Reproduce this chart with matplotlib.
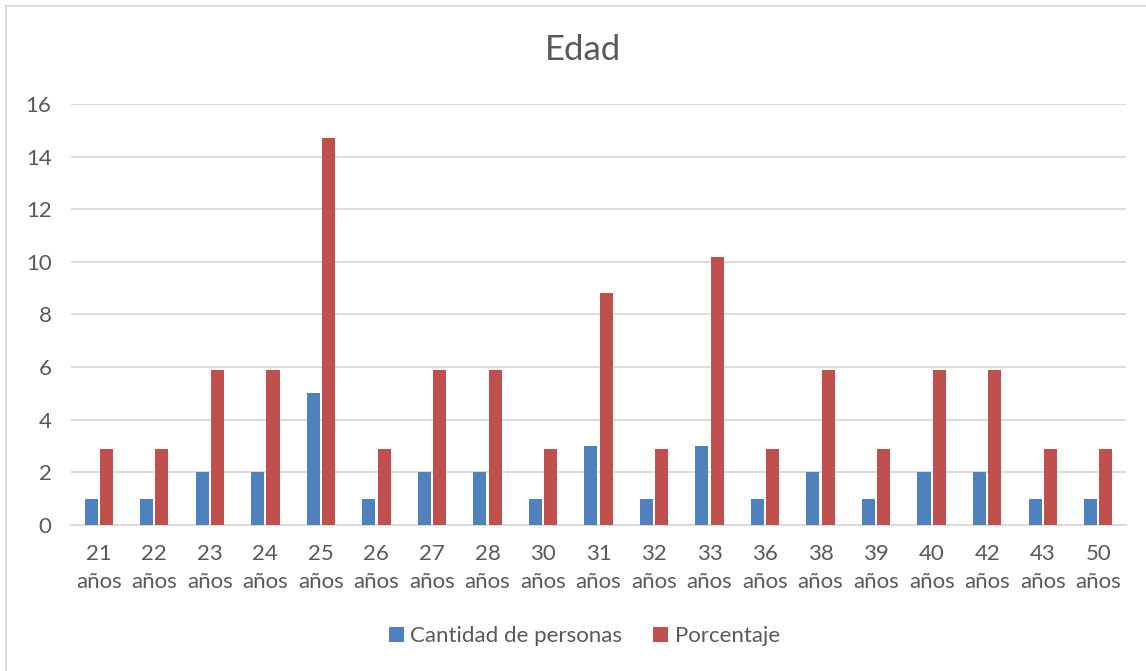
import numpy as np
import matplotlib.pyplot as plt
from matplotlib.patches import Rectangle

plt.rcParams["font.family"] = ["Lato", "DejaVu Sans"]

edades = ["21\naños", "22\naños", "23\naños", "24\naños", "25\naños", "26\naños",
          "27\naños", "28\naños", "30\naños", "31\naños", "32\naños", "33\naños",
          "36\naños", "38\naños", "39\naños", "40\naños", "42\naños", "43\naños",
          "50\naños"]
cantidad = [1, 1, 2, 2, 5, 1, 2, 2, 1, 3, 1, 3, 1, 2, 1, 2, 2, 1, 1]
porcentaje = [2.9, 2.9, 5.9, 5.9, 14.7, 2.9, 5.9, 5.9, 2.9, 8.8, 2.9, 10.2,
              2.9, 5.9, 2.9, 5.9, 5.9, 2.9, 2.9]

txt = "#595959"
fig = plt.figure(figsize=(11.46, 6.71), dpi=100)
ax = fig.add_axes([71 / 1146, 1 - 525 / 671, (1126 - 71) / 1146, (525 - 104) / 671])

x = np.arange(len(edades))
w = 0.235
ax.bar(x - w / 2 - 0.02, cantidad, w, color="#4F81BD", label="Cantidad de personas", zorder=3)
ax.bar(x + w / 2 + 0.02, porcentaje, w, color="#C0504D", label="Porcentaje", zorder=3)

ax.set_xlim(-0.5, len(edades) - 0.5)
ax.set_ylim(0, 16)
ax.set_yticks(range(0, 17, 2))
ax.set_xticks(x)
ax.set_xticklabels(edades, fontsize=16, color=txt, linespacing=1.5)
ax.tick_params(axis="y", labelsize=16, labelcolor=txt, length=0, pad=14)
ax.tick_params(axis="x", length=0, pad=14)
ax.grid(axis="y", color="#D9D9D9", linewidth=1.3, zorder=0)
for s in ["top", "right", "left"]:
    ax.spines[s].set_visible(False)
ax.spines["bottom"].set_color("#D9D9D9")
ax.spines["bottom"].set_linewidth(1.3)

fig.text(0.509, 1 - 50 / 671, "Edad", ha="center", va="center", fontsize=25, color=txt)
fig.legend(loc="center", bbox_to_anchor=(0.51, 1 - 636 / 671), ncol=2, frameon=False,
           fontsize=16, labelcolor=txt, handlelength=0.65, handleheight=0.65,
           handletextpad=0.3, columnspacing=1.4)

fig.patches.append(Rectangle((6 / 1146, -0.1), 1.2, 1.1 - 6 / 671, transform=fig.transFigure,
                             fill=False, edgecolor="#D9D9D9", linewidth=1.3))
fig.savefig("out.png", dpi=100)
